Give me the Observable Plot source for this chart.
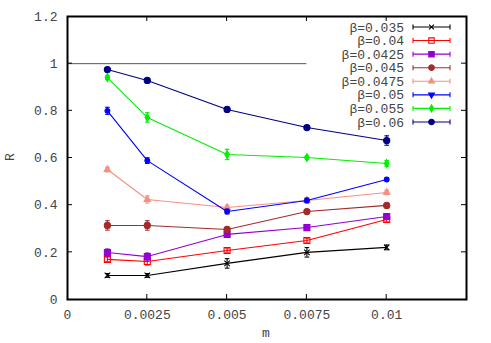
<!DOCTYPE html>
<html><head><meta charset="utf-8">
<script src="https://cdn.jsdelivr.net/npm/d3@7"></script>
<script src="https://cdn.jsdelivr.net/npm/@observablehq/plot@0.6"></script>
<style>body{margin:0;background:#fff;} svg{font-family:"Liberation Mono",monospace;}</style>
</head><body><div id="chart"></div>
<script>
const mValues = [0.00125, 0.0025, 0.005, 0.0075, 0.01];
const betaLabels = ["β=0.035","β=0.04","β=0.0425","β=0.045","β=0.0475","β=0.05","β=0.055","β=0.06"];
const colors = ["#000000","#ff0000","#9400d3","#a52a2a","#f4907f","#0000ff","#00ee00","#000080"];
const symbols = ["times","square","square","circle","triangle","triangle-down","diamond","circle"];
const filled = [false,false,true,true,true,true,true,true];
const r035 = [0.102,0.102,0.153,0.200,0.221];
const e035 = [0.008,0.008,0.02,0.02,0.01];
const r040 = [0.170,0.161,0.208,0.250,0.339];
const e040 = [0.01,0.015,0.01,0.01,0.01];
const r0425 = [0.199,0.182,0.276,0.305,0.352];
const e0425 = [0.015,0.015,0.01,0.01,0.01];
const r045 = [0.314,0.314,0.297,0.373,0.399];
const e045 = [0.02,0.02,0.008,0.008,0.008];
const r0475 = [0.551,0.424,0.390,0.420,0.454];
const e0475 = [0.01,0.015,0.01,0.008,0.01];
const r050 = [0.800,0.589,0.373,0.420,0.509];
const e050 = [0.015,0.012,0.01,0.01,0.005];
const r055 = [0.941,0.772,0.615,0.602,0.577];
const e055 = [0.008,0.02,0.022,0.006,0.012];
const r060 = [0.975,0.929,0.806,0.729,0.674];
const e060 = [0.005,0.005,0.005,0.005,0.02];
const seriesR = [r035,r040,r0425,r045,r0475,r050,r055,r060];
const seriesE = [e035,e040,e0425,e045,e0475,e050,e055,e060];
const xTicks = [0,0.0025,0.005,0.0075,0.01];
const xTickLabels = ["0","0.0025","0.005","0.0075","0.01"];
const yTicks = [0,0.2,0.4,0.6,0.8,1,1.2];
const yTickLabels = ["0","0.2","0.4","0.6","0.8","1","1.2"];
const refLine = [{x1:0,x2:0.0075,y:1}];

const data = [];
seriesR.forEach((arr,i)=>arr.forEach((v,j)=>data.push({s:i,m:mValues[j],R:v,e:seriesE[i][j]})));

const symR = {times:2.6,square:3.4,circle:3.1,triangle:2.4,"triangle-down":2.4,diamond:2.4};
const cap = {draw(ctx,size){const r=Math.sqrt(size)/2; ctx.moveTo(-r,0); ctx.lineTo(r,0);}};
const xlabFmt = d => xTickLabels[xTicks.indexOf(d)] ?? "";
const ylabFmt = d => yTickLabels[yTicks.indexOf(d)] ?? "";
const textColor = "#444";

const marks = [
  Plot.ruleY(refLine,{x1:"x1",x2:"x2",y:"y",stroke:"#555",strokeWidth:1}),
];
seriesR.forEach((arr,i)=>{
  const d = data.filter(p=>p.s===i);
  marks.push(Plot.line(d,{x:"m",y:"R",stroke:colors[i],strokeWidth:1.1}));
  marks.push(Plot.ruleX(d,{x:"m",y1:p=>p.R-p.e,y2:p=>p.R+p.e,stroke:colors[i],strokeWidth:1.1}));
  marks.push(Plot.dot(d,{x:"m",y:p=>p.R-p.e,symbol:cap,r:2.6,stroke:colors[i],strokeWidth:1.1}));
  marks.push(Plot.dot(d,{x:"m",y:p=>p.R+p.e,symbol:cap,r:2.6,stroke:colors[i],strokeWidth:1.1}));
  marks.push(Plot.dot(d,{x:"m",y:"R",symbol:symbols[i],r:symR[symbols[i]],
    fill:filled[i]?colors[i]:"none",stroke:colors[i],strokeWidth:1.1}));
});
marks.push(Plot.axisX({ticks:xTicks,tickFormat:xlabFmt,tickSize:0,tickPadding:10,label:null,fontSize:13,fill:textColor}));
marks.push(Plot.axisY({ticks:yTicks,tickFormat:ylabFmt,tickSize:0,tickPadding:10,label:null,fontSize:13,fill:textColor}));
marks.push(Plot.frame({stroke:"#000",strokeWidth:2}));

const plot = Plot.plot({
  width:491,height:343,
  marginLeft:67,marginRight:25,marginTop:16,marginBottom:44,
  style:{fontFamily:"Liberation Mono, monospace",fontSize:"13px",color:textColor},
  x:{domain:[0,0.0125]},
  y:{domain:[0,1.2]},
  marks
});
document.getElementById("chart").appendChild(plot);

const svg = d3.select(plot);
const xs = plot.scale("x"), ys = plot.scale("y");
const [xL,xR] = xs.range, [yB,yT] = ys.range;
// inward ticks on all four sides
const tg = svg.append("g").attr("stroke","#000").attr("stroke-width",1);
xTicks.slice(1).forEach(t=>{
  const x = xs.apply(t);
  tg.append("line").attr("x1",x).attr("x2",x).attr("y1",yB).attr("y2",yB-5);
  tg.append("line").attr("x1",x).attr("x2",x).attr("y1",yT).attr("y2",yT+5);
});
yTicks.slice(1,-1).forEach(t=>{
  const y = ys.apply(t);
  tg.append("line").attr("x1",xL).attr("x2",xL+5).attr("y1",y).attr("y2",y);
  tg.append("line").attr("x1",xR).attr("x2",xR-5).attr("y1",y).attr("y2",y);
});
// axis titles
svg.append("text").attr("x",266).attr("y",337).attr("text-anchor","middle")
  .attr("font-size",13).attr("fill",textColor).text("m");
svg.append("text").attr("transform","translate(14,157) rotate(-90)").attr("text-anchor","middle")
  .attr("font-size",13).attr("fill",textColor).text("R");
// legend
const lg = svg.append("g");
const d3sym = {times:d3.symbolTimes,square:d3.symbolSquare,circle:d3.symbolCircle,triangle:d3.symbolTriangle,"triangle-down":d3.symbolTriangle,diamond:d3.symbolDiamond};
betaLabels.forEach((lab,i)=>{
  const y = 27 + i*13.57;
  lg.append("text").attr("x",404).attr("y",y).attr("dy","0.35em").attr("text-anchor","end")
    .attr("font-size",13).attr("fill",textColor).text(lab);
  lg.append("line").attr("x1",413).attr("x2",450).attr("y1",y).attr("y2",y).attr("stroke",colors[i]).attr("stroke-width",1.1);
  [413,450].forEach(x=>lg.append("line").attr("x1",x).attr("x2",x).attr("y1",y-2.5).attr("y2",y+2.5).attr("stroke",colors[i]).attr("stroke-width",1.1));
  const rr = symR[symbols[i]]*0.9;
  const path = d3.symbol().type(d3sym[symbols[i]]).size(Math.PI*rr*rr)();
  let tf = `translate(431.5,${y})`;
  if (symbols[i]==="triangle-down") tf += " rotate(180)";
  lg.append("path").attr("d",path).attr("transform",tf)
    .attr("fill",filled[i]?colors[i]:"none").attr("stroke",colors[i]).attr("stroke-width",1.1);
});
</script></body></html>
